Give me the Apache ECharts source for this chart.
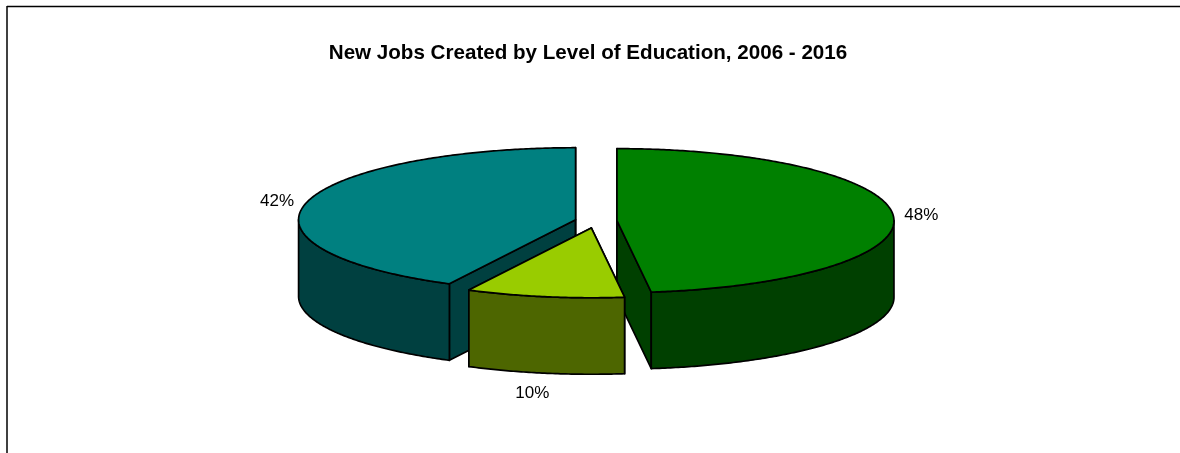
<!DOCTYPE html>
<html>
<head>
<meta charset="utf-8">
<title>New Jobs Created by Level of Education</title>
<style>
  html, body { margin: 0; padding: 0; background: #fff; }
  #main { width: 1180px; height: 453px; }
</style>
</head>
<body>
<div id="main"></div>
<script src="https://cdn.jsdelivr.net/npm/echarts@6/dist/echarts.min.js"></script>
<script>
// 数据
var shares = [48, 9.5, 42.45];
var titleText = "New Jobs Created by Level of Education, 2006 - 2016";
var topColors = ["#008000", "#99CC00", "#008080"];
var sideColors = ["#004000", "#4D6600", "#004040"];

// 3D 饼的投影参数
var centerX = 596, centerY = 221;
var radiusX = 277, radiusY = 72;
var depth = 76.5;
var explode = [21, 27, 21];
var sliceScale = [1, 0.97, 1];
var sliceZ = [1, 2, 0]; // 黄色压在最上
var labelGap = [28, 0, 30];
var labelShift = [[0, 0], [-11, 17.5], [0, 0]];

var total = shares.reduce(function (a, b) { return a + b; }, 0);

// t: 从12点方向顺时针的弧度
function rim(cx, cy, t, s) {
  return [cx + radiusX * s * Math.sin(t), cy - radiusY * s * Math.cos(t)];
}

function arcPoints(cx, cy, from, to, s) {
  var pts = [];
  var n = Math.max(2, Math.ceil((to - from) / 0.01));
  for (var i = 0; i <= n; i++) {
    pts.push(rim(cx, cy, from + (to - from) * i / n, s));
  }
  return pts;
}

function drop(pts) {
  return pts.map(function (p) { return [p[0], p[1] + depth]; }).reverse();
}

function renderSlice(params, api) {
  var i = params.dataIndex;
  var s = sliceScale[i];
  var before = 0;
  for (var k = 0; k < i; k++) before += shares[k];
  var from = before / total * Math.PI * 2;
  var to = (before + api.value(0)) / total * Math.PI * 2;
  var mid = (from + to) / 2;

  // 每块沿中线方向炸开
  var cx = centerX + explode[i] * Math.sin(mid);
  var cy = centerY - explode[i] * (radiusY / radiusX) * Math.cos(mid);

  var line = { stroke: "#000", lineWidth: 1.7, lineJoin: "round" };
  var side = Object.assign({ fill: sideColors[i] }, line);
  var children = [];

  // 两个切面
  [from, to].forEach(function (t) {
    var p = rim(cx, cy, t, s);
    children.push({
      type: "polygon",
      z2: sliceZ[i],
      shape: { points: [[cx, cy], p, [p[0], p[1] + depth], [cx, cy + depth]] },
      style: side
    });
  });

  // 外侧弧面，只画朝前的部分
  var wallFrom = Math.max(from, Math.PI / 2);
  var wallTo = Math.min(to, Math.PI * 1.5);
  if (wallTo > wallFrom) {
    var wall = arcPoints(cx, cy, wallFrom, wallTo, s);
    children.push({
      type: "polygon",
      z2: sliceZ[i],
      shape: { points: wall.concat(drop(wall)) },
      style: side
    });
  }

  // 顶面
  children.push({
    type: "polygon",
    z2: sliceZ[i],
    shape: { points: [[cx, cy]].concat(arcPoints(cx, cy, from, to, s)) },
    style: Object.assign({ fill: topColors[i] }, line)
  });

  // 百分比标签
  var lx = cx + (radiusX + labelGap[i]) * Math.sin(mid) + labelShift[i][0];
  var ly = cy - (radiusY + labelGap[i] * 0.25) * Math.cos(mid) + labelShift[i][1];
  if (Math.cos(mid) < -0.5) ly += depth;
  children.push({
    type: "text",
    z2: 5,
    style: {
      text: Math.round(api.value(0) / total * 100) + "%",
      x: lx,
      y: ly,
      align: "center",
      verticalAlign: "middle",
      fill: "#000",
      font: "17px 'Liberation Sans', Arial, sans-serif"
    }
  });

  return { type: "group", children: children };
}

var myChart = echarts.init(document.getElementById("main"));
myChart.setOption({
  animation: false,
  backgroundColor: "#fff",
  title: {
    text: titleText,
    left: 583,
    top: 38,
    textAlign: "center",
    textStyle: {
      fontFamily: "Liberation Sans",
      fontSize: 20.6,
      fontWeight: "bold",
      color: "#000"
    }
  },
  // 原图只留下上边框和左边框
  graphic: [
    { type: "line", shape: { x1: 7, y1: 6.5, x2: 1180, y2: 6.5 }, style: { stroke: "#000", lineWidth: 1.5 } },
    { type: "line", shape: { x1: 7, y1: 6, x2: 7, y2: 453 }, style: { stroke: "#000", lineWidth: 1.5 } }
  ],
  series: [
    {
      type: "custom",
      coordinateSystem: "none",
      renderItem: renderSlice,
      data: shares.map(function (v) { return [v]; }),
      silent: true
    }
  ]
});
</script>
</body>
</html>
